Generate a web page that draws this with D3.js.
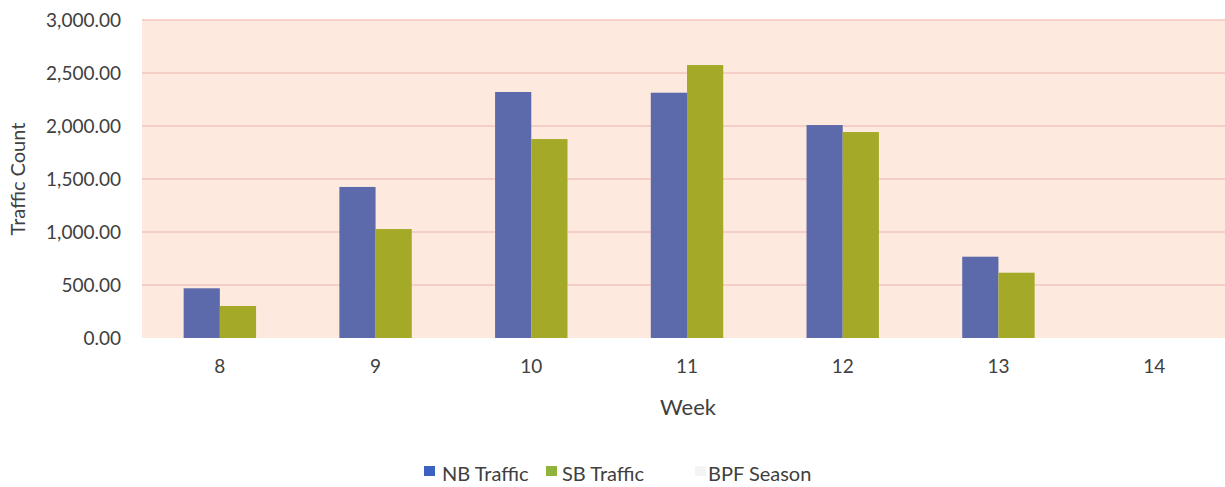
<!DOCTYPE html>
<html><head><meta charset="utf-8">
<script src="https://cdn.jsdelivr.net/npm/d3@7"></script>
<style>
body{margin:0;background:#fff;}
svg{display:block;font-family:Lato,"Open Sans",sans-serif;}
</style></head>
<body><svg id="c" width="1225" height="487"></svg>
<script>
const weeks = ["8","9","10","11","12","13","14"];
const nbTraffic = [469, 1425, 2321, 2314, 2009, 767, null];
const sbTraffic = [302, 1028, 1877, 2575, 1943, 616, null];
const yTicks = [0, 500, 1000, 1500, 2000, 2500, 3000];
const seriesNames = ["NB Traffic", "SB Traffic", "BPF Season"];

const svg = d3.select("#c");
const m = {l:142, r:1232, t:20, b:338};
const x = d3.scaleBand().domain(weeks).range([m.l, m.r]).paddingInner(0.535).paddingOuter(0.2675);
const y = d3.scaleLinear().domain([0,3000]).range([m.b, m.t]);

svg.append("rect").attr("x", m.l).attr("y", m.t).attr("width", m.r-m.l).attr("height", m.b-m.t).attr("fill", "#fde9de");

svg.append("g").selectAll("line").data(yTicks.filter(d=>d>0)).join("line")
  .attr("x1", m.l).attr("x2", m.r).attr("y1", d=>y(d)).attr("y2", d=>y(d))
  .attr("stroke", "#f2c6bd").attr("stroke-width", 1.3);

const yAxis = svg.append("g").attr("transform", `translate(${m.l},0)`)
  .call(d3.axisLeft(y).tickValues(yTicks).tickFormat(d3.format(",.2f")).tickSize(0).tickPadding(21));
yAxis.select(".domain").remove();
yAxis.selectAll("text").attr("font-size", 19).attr("fill", "#404040").attr("font-family", "Lato,sans-serif");

const xAxis = svg.append("g").attr("transform", `translate(0,${m.b})`)
  .call(d3.axisBottom(x).tickSize(0).tickPadding(22));
xAxis.select(".domain").remove();
xAxis.selectAll("text").attr("font-size", 19).attr("fill", "#404040").attr("font-family", "Lato,sans-serif");

const bw = x.bandwidth()/2;
const colors = ["#5c6aab", "#a4aa28"];
[nbTraffic, sbTraffic].forEach((arr, i) => {
  svg.append("g").selectAll("rect").data(weeks.map((w,j)=>({w, v:arr[j]})).filter(d=>d.v!=null)).join("rect")
    .attr("x", d=>x(d.w)+i*bw).attr("width", bw)
    .attr("y", d=>y(d.v)).attr("height", d=>y(0)-y(d.v))
    .attr("fill", colors[i]);
});

svg.append("text").attr("transform", `translate(25,${(m.t+m.b)/2}) rotate(-90)`)
  .attr("text-anchor","middle").attr("font-size", 20).attr("fill","#404040").text("Traffic Count");
svg.append("text").attr("x", 688).attr("y", 415).attr("text-anchor","middle")
  .attr("font-size", 22).attr("fill","#404040").text("Week");

const legCols = ["#3b62c2", "#8fb33d", "#f4f4f4"];
const legSq = [424, 546, 695];
const legTx = [442, 562, 708];
const lg = svg.append("g");
seriesNames.forEach((n,i)=>{
  lg.append("rect").attr("x", legSq[i]).attr("y", 466).attr("width", 11).attr("height", 10).attr("fill", legCols[i]);
  lg.append("text").attr("x", legTx[i]).attr("y", 481).attr("font-size", 20).attr("fill","#404040").text(n);
});
</script></body></html>
